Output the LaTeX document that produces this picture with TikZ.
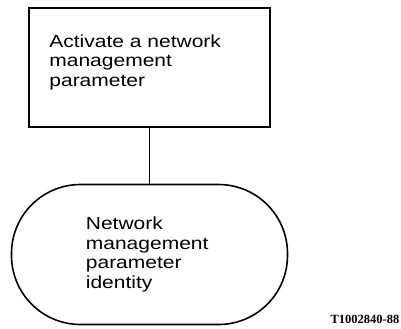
\documentclass[tikz,border=0pt]{standalone}
\usepackage{fontspec}
\setmainfont{Liberation Sans}[FakeStretch=1.2]
\newfontfamily\tagfont{Liberation Serif}
\usetikzlibrary{positioning}
\begin{document}
\begin{tikzpicture}[x=1bp,y=-1bp,
    every node/.style={inner sep=0pt},
    procbox/.style={draw,line width=1.6bp,minimum width=241bp,minimum height=119bp},
    stadium/.style={draw,line width=1.6bp,rounded corners=69bp,minimum width=276bp,minimum height=140bp},
    lbl/.style={font=\fontsize{17.5bp}{19.5bp}\selectfont,align=left}]
  \useasboundingbox (0,0) rectangle (401,329);
  \node[procbox] (act) at (149.5,67.5) {};
  \node[stadium] (ident) at (149.5,254.5) {};
  \node[lbl,below right=27.2bp and 21bp of act.north west] (actlbl)
    {Activate a network\\management\\parameter};
  \node[lbl,below right=33bp and 75bp of ident.north west] (identlbl)
    {Network\\management\\parameter\\identity};
  \draw[line width=1.8bp] (act.south) to (ident.north);
  \node[font=\tagfont\bfseries\fontsize{12.5bp}{14bp}\selectfont,anchor=base east]
    (tag) at (399.5,323.3) {T1002840-88};
\end{tikzpicture}
\end{document}
